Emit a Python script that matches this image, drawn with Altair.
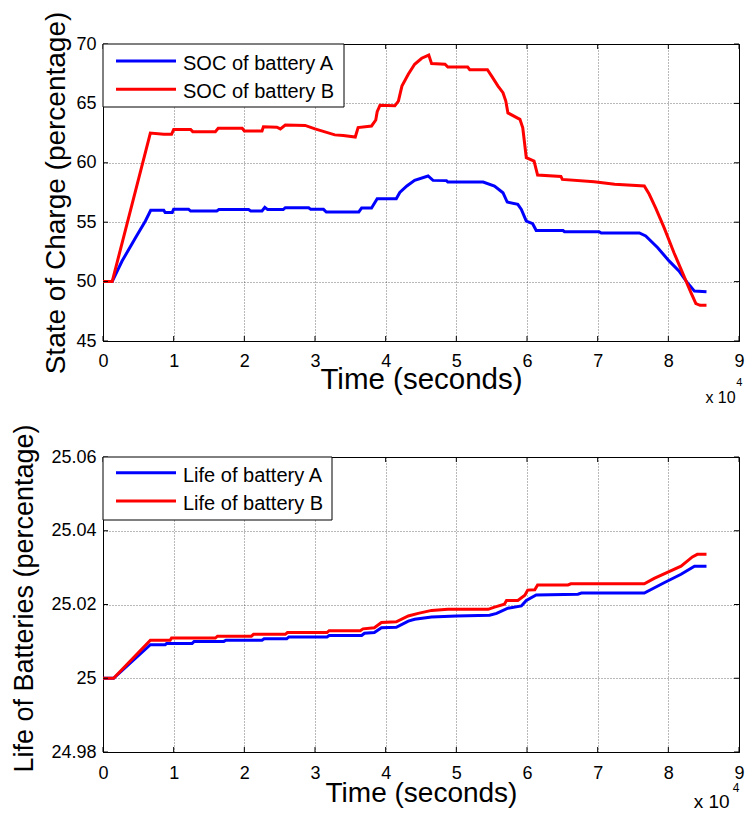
import altair as alt
import pandas as pd

FONT = "Liberation Sans"

# ---------------- data (time in units of 1e4 s) ----------------
t_soc_a = [0, 0.13, 0.27, 0.46, 0.6, 0.675, 0.86, 0.88, 0.98, 1.0, 1.21, 1.24, 1.61, 1.64,
           2.06, 2.09, 2.25, 2.29, 2.33, 2.55, 2.58, 2.91, 2.94, 3.12, 3.16, 3.62, 3.66,
           3.8, 3.88, 4.15, 4.2, 4.3, 4.41, 4.6, 4.67, 4.86, 4.88, 5.38, 5.54, 5.66, 5.72,
           5.87, 5.92, 5.99, 6.08, 6.13, 6.51, 6.53, 7.02, 7.05, 7.59, 7.68, 7.85, 8.01,
           8.15, 8.27, 8.37, 8.54]
soc_a = [50.0, 50.0, 51.73, 53.7, 55.1, 56.0, 56.0, 55.82, 55.82, 56.1, 56.1, 55.94, 55.94, 56.06,
         56.06, 55.94, 55.94, 56.25, 56.06, 56.06, 56.22, 56.22, 56.08, 56.08, 55.86, 55.86, 56.2,
         56.2, 56.98, 56.98, 57.5, 58.05, 58.52, 58.89, 58.52, 58.5, 58.38, 58.38, 58.05, 57.48, 56.7,
         56.5, 56.08, 55.1, 54.87, 54.3, 54.3, 54.2, 54.2, 54.09, 54.09, 53.84, 52.85, 51.74,
         50.9, 49.9, 49.2, 49.15]

t_soc_b = [0, 0.13, 0.67, 0.86, 0.97, 1.0, 1.24, 1.27, 1.59, 1.63, 1.97, 2.0, 2.25, 2.27, 2.46,
           2.51, 2.58, 2.86, 3.0, 3.28, 3.4, 3.57, 3.61, 3.8, 3.86, 3.88, 3.92, 4.13, 4.18, 4.23,
           4.32, 4.41, 4.51, 4.61, 4.65, 4.84, 4.88, 5.16, 5.19, 5.44, 5.5, 5.59, 5.66, 5.7, 5.73,
           5.9, 5.94, 5.99, 6.1, 6.15, 6.48, 6.5, 6.95, 7.24, 7.66, 7.73, 7.82, 7.94, 8.08, 8.2,
           8.32, 8.39, 8.45, 8.54]
soc_b = [50.0, 50.0, 62.5, 62.4, 62.4, 62.8, 62.8, 62.62, 62.62, 62.9, 62.9, 62.68, 62.68, 63.04, 63.0,
         62.85, 63.18, 63.15, 62.85, 62.35, 62.3, 62.17, 62.96, 63.1, 63.6, 64.3, 64.85, 64.8, 65.2, 66.46,
         67.45, 68.29, 68.8, 69.07, 68.35, 68.3, 68.06, 68.06, 67.84, 67.84, 67.3, 66.46, 65.9, 65.2, 64.2,
         63.66, 62.95, 60.43, 60.15, 58.97, 58.85, 58.6, 58.4, 58.19, 58.05, 57.35, 56.2, 54.54, 52.43, 50.75,
         49.07, 48.14, 48.0, 48.0]

t_life_a = [0, 0.15, 0.67, 0.88, 0.9, 1.26, 1.29, 1.71, 1.74, 2.25, 2.28, 2.6, 2.63, 3.17, 3.2,
            3.66, 3.7, 3.84, 3.94, 4.15, 4.32, 4.41, 4.65, 5.0, 5.47, 5.57, 5.73, 5.92, 5.99,
            6.13, 6.72, 6.77, 7.66, 7.94, 8.18, 8.37, 8.54]
life_a = [25.0, 25.0, 25.0091, 25.0091, 25.0094, 25.0094, 25.01, 25.01, 25.0103, 25.0103, 25.0107,
          25.0107, 25.0112, 25.0112, 25.0116, 25.0116, 25.0122, 25.0124, 25.0137, 25.0138, 25.0155,
          25.016, 25.0166, 25.0169, 25.0171, 25.0176, 25.019, 25.0196, 25.0211, 25.0226, 25.0228,
          25.0231, 25.0231, 25.0259, 25.0282, 25.0304, 25.0304]

t_life_b = [0, 0.15, 0.67, 0.95, 0.97, 1.59, 1.62, 2.1, 2.13, 2.58, 2.61, 3.17, 3.2, 3.64, 3.68,
            3.84, 3.94, 4.15, 4.32, 4.46, 4.65, 4.88, 5.45, 5.54, 5.68, 5.71, 5.87, 5.97, 6.01,
            6.11, 6.15, 6.58, 6.62, 7.66, 7.8, 8.18, 8.34, 8.41, 8.54]
life_b = [25.0, 25.0, 25.0103, 25.0103, 25.0109, 25.0109, 25.0114, 25.0114, 25.0119, 25.0119, 25.0124,
          25.0124, 25.0129, 25.0129, 25.0134, 25.0137, 25.0151, 25.0153, 25.0169, 25.0176, 25.0184,
          25.0187, 25.0187, 25.0193, 25.0201, 25.0211, 25.0211, 25.0225, 25.0239, 25.024, 25.0253,
          25.0253, 25.0256, 25.0256, 25.0271, 25.0304, 25.0329, 25.0336, 25.0336]

x_ticks = [0, 1, 2, 3, 4, 5, 6, 7, 8, 9]
soc_ticks = [45, 50, 55, 60, 65, 70]
life_ticks = [24.98, 25.0, 25.02, 25.04, 25.06]

soc_names = ["SOC of battery A", "SOC of battery B"]
life_names = ["Life of battery A", "Life of battery B"]
series_keys = ["A", "B"]
colors = ["#0000FF", "#FF0000"]

W = 636
TICK = 5  # inward tick length in px (MATLAB style)


def long_df(ta, va, tb, vb):
    rows = []
    for key, ts, vs in (("A", ta, va), ("B", tb, vb)):
        for i, (t, v) in enumerate(zip(ts, vs)):
            rows.append({"t": t, "v": v, "s": key, "o": i})
    return pd.DataFrame(rows)


one = alt.Data(values=[{"k": 1}])

GRID = dict(grid=True, gridColor="#000000", gridOpacity=0.55, gridDash=[1, 2], gridWidth=1)


def panel(df, ydomain, yticks, yfmt, ytitle, ytitle_x, ytitle_y, ytitle_size,
          xlabel_pad, xtitle_y, xtitle_size, names, leg_w, leg_rows, leg_text_rows,
          exp_pos, exp_size, sup_pos, sup_size, w, h):
    x_axis = alt.Axis(values=x_ticks, format="d", title="Time (seconds)", tickSize=0,
                      labelPadding=xlabel_pad, labelFontSize=18, labelFlush=False, labelOverlap=False,
                      titleFontSize=xtitle_size, titleY=xtitle_y, titleFontWeight="normal",
                      domainColor="black", **GRID)
    y_axis = alt.Axis(values=yticks, format=yfmt, title=ytitle, tickSize=0, labelPadding=7,
                      labelFontSize=18, labelFlush=False, labelOverlap=False,
                      titleFontSize=ytitle_size, titleFontWeight="normal", titleX=ytitle_x,
                      titleY=ytitle_y, titleAngle=270, titleAlign="center",
                      titleBaseline="alphabetic", domainColor="black", **GRID)
    xs = alt.Scale(domain=[0, 9], nice=False, zero=False)
    ys = alt.Scale(domain=ydomain, nice=False, zero=False)
    lines = alt.Chart(df).mark_line(strokeWidth=3).encode(
        x=alt.X("t:Q", scale=xs, axis=x_axis),
        y=alt.Y("v:Q", scale=ys, axis=y_axis),
        color=alt.Color("s:N", scale=alt.Scale(domain=series_keys, range=colors), legend=None),
        order="o:Q",
    )
    # inward tick marks on all four sides
    xt = pd.DataFrame({"t": x_ticks})
    yt = pd.DataFrame({"v": yticks})
    tick_layers = [
        alt.Chart(xt).mark_rule(color="black", strokeWidth=1).encode(
            x=alt.X("t:Q", scale=xs), y=alt.value(h), y2=alt.value(h - TICK)),
        alt.Chart(xt).mark_rule(color="black", strokeWidth=1).encode(
            x=alt.X("t:Q", scale=xs), y=alt.value(0), y2=alt.value(TICK)),
        alt.Chart(yt).mark_rule(color="black", strokeWidth=1).encode(
            y=alt.Y("v:Q", scale=ys), x=alt.value(0), x2=alt.value(TICK)),
        alt.Chart(yt).mark_rule(color="black", strokeWidth=1).encode(
            y=alt.Y("v:Q", scale=ys), x=alt.value(w - TICK), x2=alt.value(w)),
    ]
    box = alt.Chart(one).mark_rect(fill="white", stroke="black", strokeWidth=1).encode(
        x=alt.value(0), x2=alt.value(leg_w), y=alt.value(0), y2=alt.value(63))
    layers = [lines] + tick_layers + [box]
    for name, col, ry, ty in zip(names, colors, leg_rows, leg_text_rows):
        layers.append(alt.Chart(one).mark_rule(color=col, strokeWidth=3).encode(
            x=alt.value(13), x2=alt.value(73), y=alt.value(ry)))
        layers.append(alt.Chart(one).mark_text(text=name, align="left", baseline="middle",
                                               fontSize=20, font=FONT, color="black").encode(
            x=alt.value(80), y=alt.value(ty)))
    layers.append(alt.Chart(one).mark_text(text="x 10", align="left", baseline="alphabetic",
                                           fontSize=exp_size, font=FONT, color="black").encode(
        x=alt.value(exp_pos[0]), y=alt.value(exp_pos[1])))
    layers.append(alt.Chart(one).mark_text(text="4", align="left", baseline="alphabetic",
                                           fontSize=sup_size, font=FONT, color="black").encode(
        x=alt.value(sup_pos[0]), y=alt.value(sup_pos[1])))
    return alt.layer(*layers).properties(width=w, height=h)


top = panel(long_df(t_soc_a, soc_a, t_soc_b, soc_b), [45, 70], soc_ticks, "d",
            "State of Charge (percentage)", -38.6, 148.5, 28,
            11, 24.5, 29.5, soc_names, 241, [17, 45.3], [20.4, 48.2],
            (W - 33.6, 358.7), 16, (W - 2.8, 342), 11, W, 297)

bottom = panel(long_df(t_life_a, life_a, t_life_b, life_b), [24.98, 25.06], life_ticks, ".4~g",
               "Life of Batteries (percentage)", -70.5, 141, 27,
               12, 27, 28, life_names, 229, [15.7, 44], [18.9, 47.2],
               (W - 45.3, 351), 19, (W - 6.3, 335), 12, W, 295)

chart = alt.vconcat(top, bottom, spacing=116, bounds="flush").properties(
    padding={"left": 1, "top": 2, "right": 0, "bottom": 0},
    background="white",
).configure_view(stroke="black", strokeWidth=1).configure_axis(
    labelFont=FONT, titleFont=FONT, labelColor="black", titleColor="black"
)

chart.save("out.html", embed_options={"renderer": "svg", "actions": False})
